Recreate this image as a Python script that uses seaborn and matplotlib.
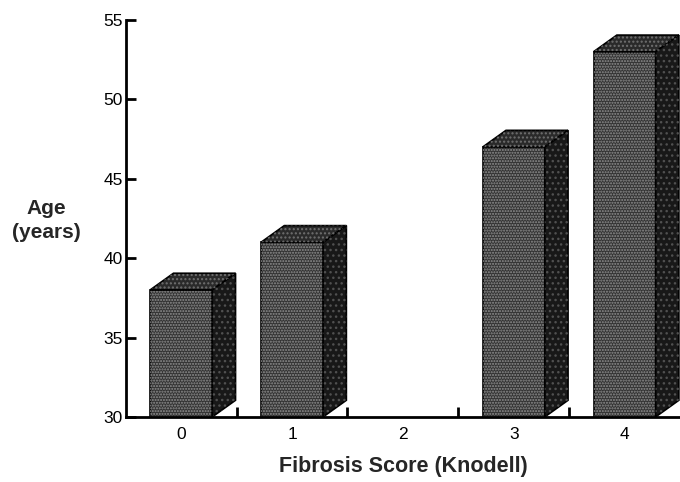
import numpy as np
import pandas as pd
import matplotlib
matplotlib.use("Agg")
import matplotlib.pyplot as plt
from matplotlib.patches import Polygon
import seaborn as sns

# ---- data ----
scores = ["0", "1", "2", "3", "4"]
bar_scores = ["0", "1", "3", "4"]
mean_age = [38, 41, 47, 53]
y_ticks = [30, 35, 40, 45, 50, 55]
x_label = "Fibrosis Score (Knodell)"
y_label = "Age\n(years)"

sns.set_style("ticks")
plt.rcParams["font.family"] = ["Liberation Sans", "DejaVu Sans"]
plt.rcParams["hatch.linewidth"] = 1.0

fig, ax = plt.subplots(figsize=(6.8, 4.82), dpi=100)
fig.subplots_adjust(left=0.185, right=1.0, bottom=0.135, top=0.9585)

df = pd.DataFrame({"score": bar_scores, "age": mean_age})
sns.barplot(data=df, x="score", y="age", order=scores, width=0.56,
            color="#333333", saturation=1, edgecolor="black", linewidth=1.2,
            errorbar=None, ax=ax)

ymin, ymax = y_ticks[0], y_ticks[-1]
ax.set_ylim(ymin, ymax)
ax.set_xlim(-0.5, len(scores) - 0.5)

dx = 0.21   # depth in category units
dy = 1.05   # depth in data units

fronts = list(ax.patches)
for p in fronts:
    x0 = p.get_x()
    x1 = x0 + p.get_width()
    h = p.get_height()
    if not np.isfinite(h) or h <= 0:
        continue
    # texture on front
    ax.add_patch(Polygon([(x0, ymin), (x0, h), (x1, h), (x1, ymin)], closed=True,
                         facecolor="none", edgecolor="#909090", lw=0, hatch="......", zorder=1.5))
    # top face
    top = [(x0, h), (x0 + dx, h + dy), (x1 + dx, h + dy), (x1, h)]
    ax.add_patch(Polygon(top, closed=True, facecolor="#2a2a2a", edgecolor="black", lw=1.2, zorder=2))
    ax.add_patch(Polygon(top, closed=True, facecolor="none", edgecolor="#707070", lw=0, hatch="....", zorder=2.1))
    # side face
    side = [(x1, ymin), (x1, h), (x1 + dx, h + dy), (x1 + dx, ymin + dy)]
    ax.add_patch(Polygon(side, closed=True, facecolor="#181818", edgecolor="black", lw=1.2, zorder=2))
    ax.add_patch(Polygon(side, closed=True, facecolor="none", edgecolor="#505050", lw=0, hatch="...", zorder=2.1))

ax.set_yticks(y_ticks)
ax.set_xticks(range(len(scores)))
ax.set_xticklabels(scores)
ax.set_xticks(np.arange(0.5, len(scores) - 1, 1.0), minor=True)

for s in ["top", "right"]:
    ax.spines[s].set_visible(False)
for s in ["left", "bottom"]:
    ax.spines[s].set_linewidth(2)
    ax.spines[s].set_color("black")

ax.tick_params(axis="y", which="major", direction="in", length=7, width=2,
               labelsize=12.5, pad=2, colors="black")
ax.tick_params(axis="x", which="major", length=0, labelsize=12.5, pad=7, colors="black")
ax.tick_params(axis="x", which="minor", direction="in", length=7, width=2, colors="black")

ax.set_ylabel(y_label, rotation=0, fontsize=15, fontweight="bold",
              ha="center", va="center", linespacing=1.3)
ax.yaxis.set_label_coords(-0.143, 0.495)
ax.set_xlabel(x_label, fontsize=15.5, fontweight="bold", va="center")
ax.xaxis.set_label_coords(0.5, -0.126)

fig.savefig("out.png", dpi=100)
